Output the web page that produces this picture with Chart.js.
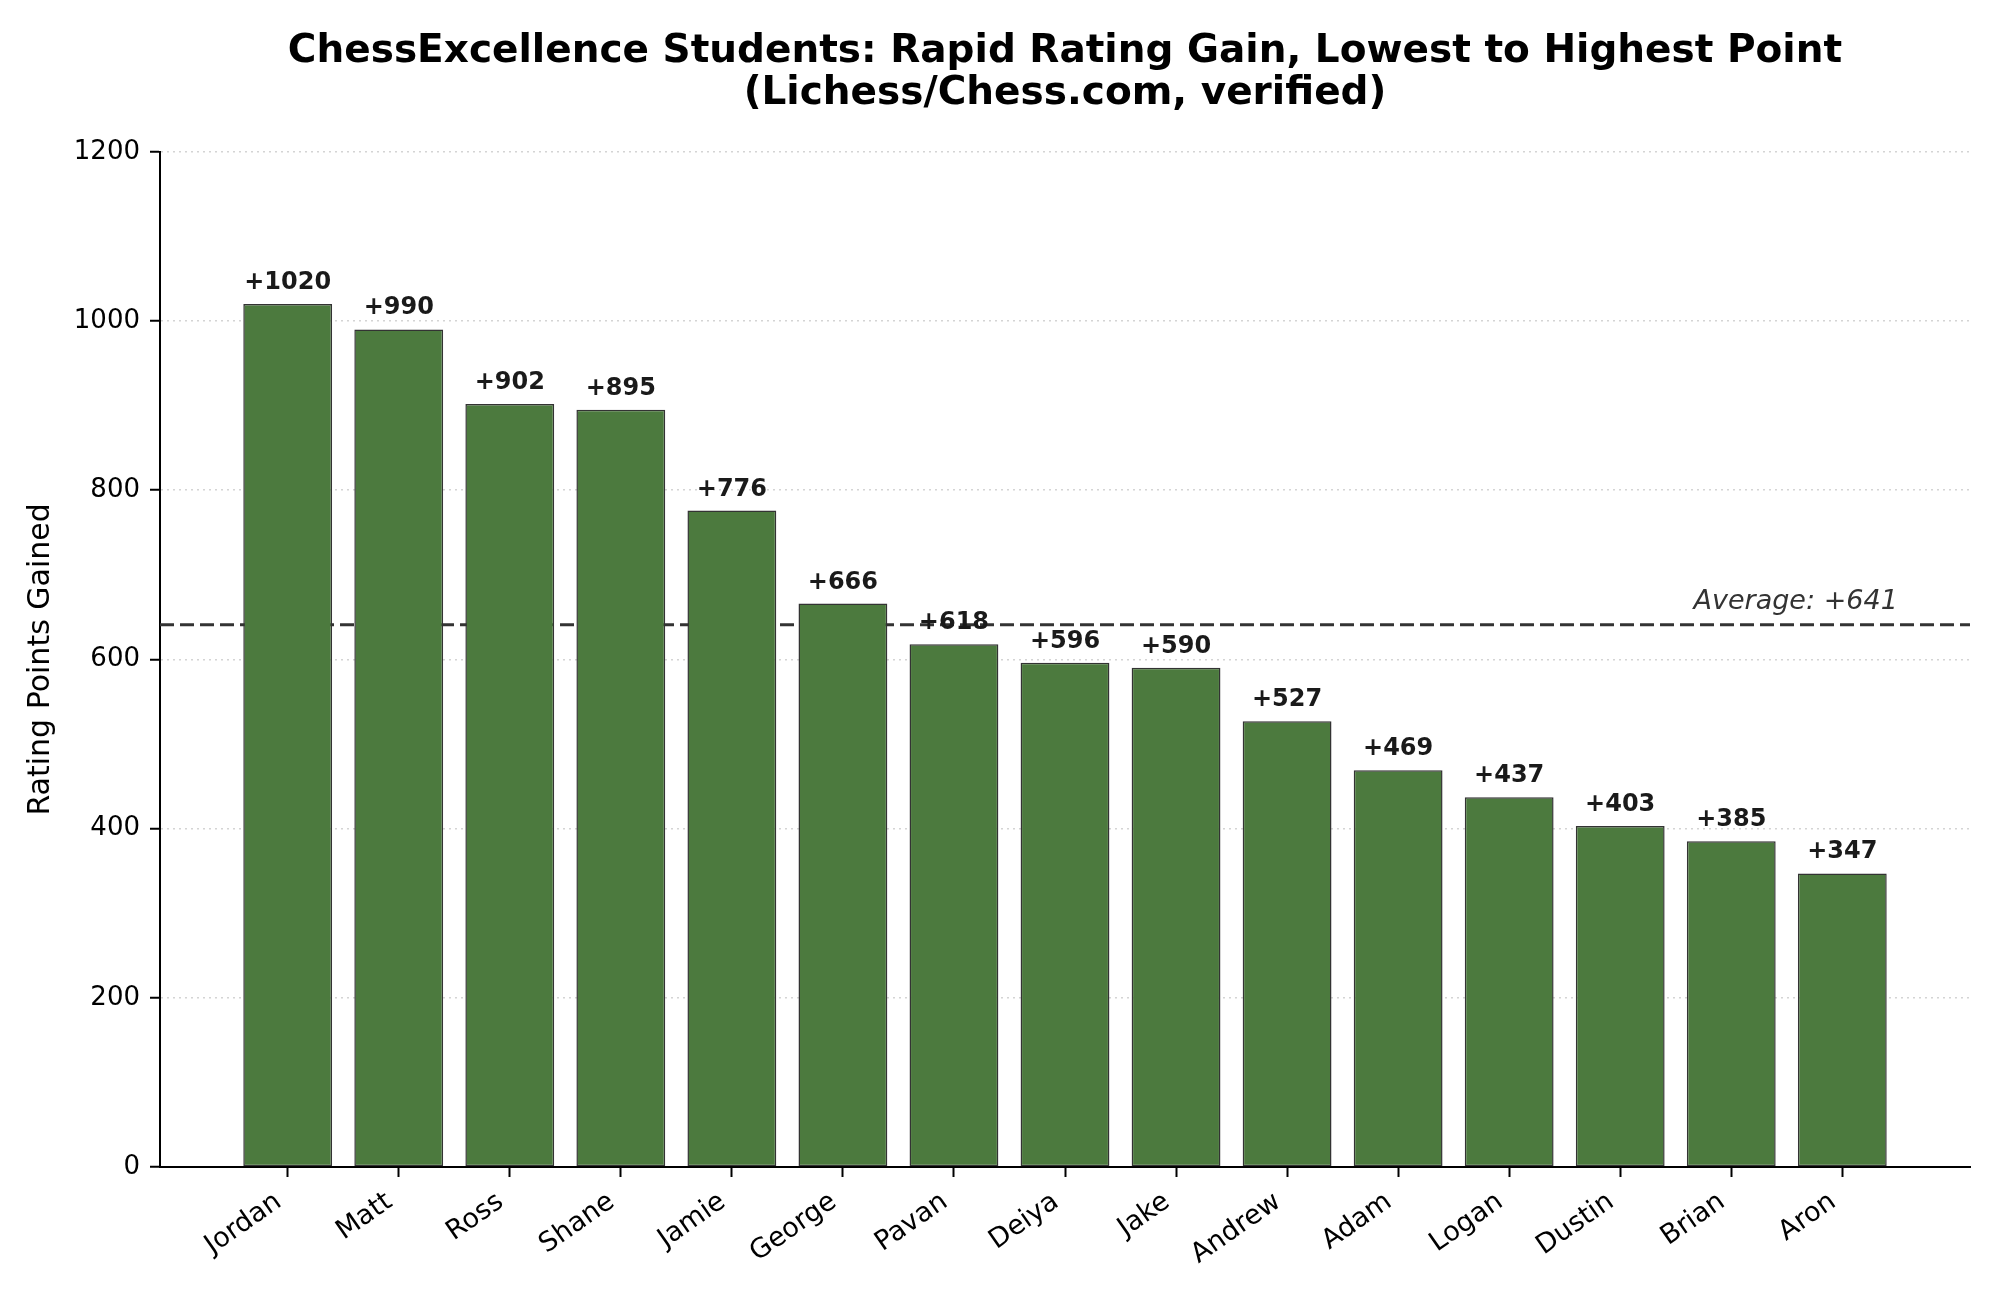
<!DOCTYPE html>
<html>
<head>
<meta charset="utf-8">
<script src="https://cdn.jsdelivr.net/npm/chart.js@4.4.1/dist/chart.umd.min.js"></script>
<style>
  html, body { margin: 0; padding: 0; background: #fff; }
  #wrap { width: 2000px; height: 1300px; }
</style>
</head>
<body>
<div id="wrap"><canvas id="grafico" width="2000" height="1300"></canvas></div>
<script>
// datos del grafico
const students = ["Jordan", "Matt", "Ross", "Shane", "Jamie", "George", "Pavan", "Deiya",
                  "Jake", "Andrew", "Adam", "Logan", "Dustin", "Brian", "Aron"];
const gains = [1020, 990, 902, 895, 776, 666, 618, 596, 590, 527, 469, 437, 403, 385, 347];
const yTicks = [0, 200, 400, 600, 800, 1000, 1200];
const average = 641;

const FONT = "'DejaVu Sans', 'Liberation Sans', sans-serif";

// linea de promedio (detras de las barras) y etiquetas encima
const averageLine = {
  id: "averageLine",
  beforeDatasetsDraw(chart) {
    const { ctx, chartArea, scales } = chart;
    const y = scales.y.getPixelForValue(average);
    ctx.save();
    ctx.strokeStyle = "#333333";
    ctx.lineWidth = 3;
    ctx.setLineDash([14, 6]);
    ctx.beginPath();
    ctx.moveTo(chartArea.left, y);
    ctx.lineTo(chartArea.right, y);
    ctx.stroke();
    ctx.restore();
  },
  afterDatasetsDraw(chart) {
    const { ctx, scales } = chart;
    ctx.save();
    ctx.font = "bold 24px " + FONT;
    ctx.fillStyle = "#1a1a1a";
    ctx.textAlign = "center";
    ctx.textBaseline = "alphabetic";
    gains.forEach((v, i) => {
      const x = scales.x.getPixelForValue(i);
      const y = scales.y.getPixelForValue(v) - 15;
      ctx.fillText("+" + v, x, y);
    });
    // texto del promedio
    ctx.font = "italic 27px " + FONT;
    ctx.fillStyle = "#333333";
    ctx.textAlign = "right";
    ctx.fillText("Average: +" + average, scales.x.getPixelForValue(students.length - 0.5),
                 scales.y.getPixelForValue(average) - 16);
    ctx.restore();
  }
};

const ctx = document.getElementById("grafico").getContext("2d");
new Chart(ctx, {
  type: "bar",
  data: {
    datasets: [{
      data: gains.map((v, i) => ({ x: i, y: v })),
      backgroundColor: "#4c7a3e",
      borderColor: "#333333",
      borderWidth: 1.5,
      borderSkipped: false,
      barPercentage: 0.8,
      categoryPercentage: 1.0
    }]
  },
  options: {
    responsive: false,
    animation: false,
    devicePixelRatio: 1,
    layout: { padding: { left: 0, right: 30, top: 0, bottom: 0 } },
    plugins: {
      legend: { display: false },
      tooltip: { enabled: false },
      title: {
        display: true,
        fullSize: false,
        text: ["ChessExcellence Students: Rapid Rating Gain, Lowest to Highest Point",
               "(Lichess/Chess.com, verified)"],
        color: "#000",
        font: { family: FONT, size: 39, weight: "bold", lineHeight: 1.1 },
        padding: { top: 30, bottom: 36 }
      }
    },
    scales: {
      x: {
        type: "linear",
        offset: false,
        min: -1.15,
        max: 15.15,
        afterBuildTicks: (scale) => { scale.ticks = students.map((_, i) => ({ value: i })); },
        afterFit: (scale) => { scale.height = 133; },
        ticks: {
          autoSkip: false,
          minRotation: 35,
          maxRotation: 35,
          padding: 9,
          labelOffset: -9,
          color: "#000",
          font: { family: FONT, size: 27 },
          callback: (v) => students[v]
        },
        grid: {
          display: true,
          offset: false,
          drawOnChartArea: false,
          drawTicks: true,
          tickLength: 10,
          tickColor: "#000",
          tickWidth: 2
        },
        border: { display: true, color: "#000", width: 2 }
      },
      y: {
        min: 0,
        max: 1200,
        afterBuildTicks: (scale) => { scale.ticks = yTicks.map(v => ({ value: v })); },
        afterFit: (scale) => { scale.width = 160; },
        title: {
          display: true,
          text: "Rating Points Gained",
          color: "#000",
          font: { family: FONT, size: 30 },
          padding: { top: 23, bottom: 0 }
        },
        ticks: {
          padding: 10,
          color: "#000",
          font: { family: FONT, size: 26 },
          callback: (v) => String(v)
        },
        grid: {
          display: true,
          drawOnChartArea: true,
          drawTicks: true,
          tickLength: 10,
          color: "#d4d4d4",
          lineWidth: 1.5,
          tickColor: "#000",
          tickWidth: 2,
          tickBorderDash: []
        },
        border: { display: true, color: "#000", width: 2, dash: [2, 4] }
      }
    }
  },
  plugins: [averageLine]
});
</script>
</body>
</html>
